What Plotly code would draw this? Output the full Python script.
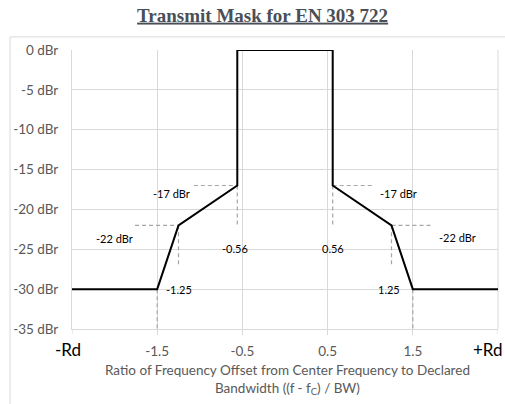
import plotly.graph_objects as go

# Spectral mask corner points (ratio of offset to bandwidth, dBr)
mask_x = [-2.5, -1.5, -1.25, -0.56, -0.56, 0.56, 0.56, 1.25, 1.5, 2.5]
mask_y = [-30, -30, -22, -17, 0, 0, -17, -22, -30, -30]

# Axis ticks
x_tickvals = [-2.5, -1.5, -0.5, 0.5, 1.5, 2.5]
x_ticktext = ["-Rd", "-1.5", "-0.5", "0.5", "1.5", "+Rd"]
y_tickvals = [0, -5, -10, -15, -20, -25, -30, -35]
y_ticktext = ["0 dBr", "-5 dBr", "-10 dBr", "-15 dBr", "-20 dBr", "-25 dBr", "-30 dBr", "-35 dBr"]

# Dashed guide segments: (x0, y0, x1, y1)
guides = [
    (-1.07, -17, -0.56, -17), (-0.56, -17, -0.56, -22),
    (-1.76, -22, -1.25, -22), (-1.25, -22, -1.25, -27),
    (-1.5, -30, -1.5, -35),
    (0.56, -17, 1.05, -17), (0.56, -17, 0.56, -22),
    (1.25, -22, 1.74, -22), (1.25, -22, 1.25, -27),
    (1.5, -30, 1.5, -35),
]

# Value labels: (text, x, y)
labels = [
    ("-17 dBr", -1.33, -18.0), ("-22 dBr", -2.0, -23.6),
    ("-0.56", -0.59, -24.85), ("-1.25", -1.25, -30.0),
    ("-17 dBr", 1.33, -18.05), ("-22 dBr", 2.03, -23.5),
    ("0.56", 0.565, -24.85), ("1.25", 1.22, -30.0),
]

GRID = "#d9d9d9"
TXT = "#595959"
FONT = "Lato, Carlito, Liberation Sans, sans-serif"

fig = go.Figure()

for x0, y0, x1, y1 in guides:
    fig.add_trace(go.Scatter(
        x=[x0, x1], y=[y0, y1], mode="lines",
        line=dict(color="#a6a6a6", width=1.2, dash="4px,3px"),
        hoverinfo="skip", showlegend=False,
    ))

fig.add_trace(go.Scatter(
    x=mask_x, y=mask_y, mode="lines",
    line=dict(color="black", width=2),
    showlegend=False,
))

for text, x, y in labels:
    fig.add_annotation(
        x=x, y=y, text=text, showarrow=False,
        font=dict(family=FONT, size=11, color="black"),
        xanchor="center", yanchor="middle",
    )

# Inner numeric ticks go on the axis; the band-edge labels (-Rd / +Rd)
# sit at the plot edges as larger black annotations.
inner = [(v, t) for v, t in zip(x_tickvals, x_ticktext) if "Rd" not in t]
edges = [(v, t) for v, t in zip(x_tickvals, x_ticktext) if "Rd" in t]

for v, t in edges:
    fig.add_annotation(
        x=v, xref="x", y=0, yref="paper", yshift=-8,
        text=t, showarrow=False,
        xanchor="right" if v > 0 else "center", yanchor="top",
        xshift=7 if v > 0 else -4,
        font=dict(family=FONT, size=17, color="black"),
    )
    # small outside tick at the band edge
    fig.add_shape(type="line", xref="x", yref="paper", x0=v, x1=v,
                  y0=0, y1=-0.018, line=dict(color=GRID, width=1))

# Two-line axis title under the tick labels
fig.add_annotation(
    xref="paper", yref="paper", x=0.507, y=-0.11,
    text="Ratio of Frequency Offset from Center Frequency to Declared<br>"
         "Bandwidth ((f - f<sub>C</sub>) / BW)",
    showarrow=False, xanchor="center", yanchor="top",
    font=dict(family=FONT, size=13.5, color=TXT),
)

# Outer chart frame
fig.add_shape(
    type="rect", xref="paper", yref="paper",
    x0=-0.1455, y0=-0.4, x1=1.2, y1=1.047,
    line=dict(color=GRID, width=1), layer="below",
)

fig.update_layout(
    width=505, height=404,
    margin=dict(l=72, r=7, t=50, b=75),
    paper_bgcolor="white", plot_bgcolor="white",
    title=dict(
        text="<b><u>Transmit Mask for EN 303 722</u></b>",
        x=0.52, xref="container", xanchor="center",
        y=1 - 15 / 404, yref="container", yanchor="middle",
        font=dict(family="Liberation Serif, Times New Roman, serif", size=19, color="#4a4f57"),
    ),
    xaxis=dict(
        range=[-2.5, 2.5],
        tickvals=[v for v, _ in inner], ticktext=[t for _, t in inner],
        showgrid=True, gridcolor=GRID, gridwidth=1,
        zeroline=False, showline=True, linecolor=GRID, linewidth=1,
        ticks="outside", ticklen=5, tickcolor=GRID,
        tickfont=dict(family=FONT, size=13.5, color=TXT),
        ticklabelstandoff=5,
    ),
    yaxis=dict(
        range=[-35, 0], tickvals=y_tickvals, ticktext=y_ticktext,
        showgrid=True, gridcolor=GRID, gridwidth=1,
        zeroline=False, showline=True, linecolor=GRID, linewidth=1,
        tickfont=dict(family=FONT, size=13.5, color=TXT),
        ticklabelstandoff=10,
    ),
)

# Right border of the plot area
fig.add_shape(type="line", xref="paper", yref="paper", x0=1, x1=1, y0=0, y1=1,
              line=dict(color=GRID, width=1), layer="below")

fig.write_html("out.html")
